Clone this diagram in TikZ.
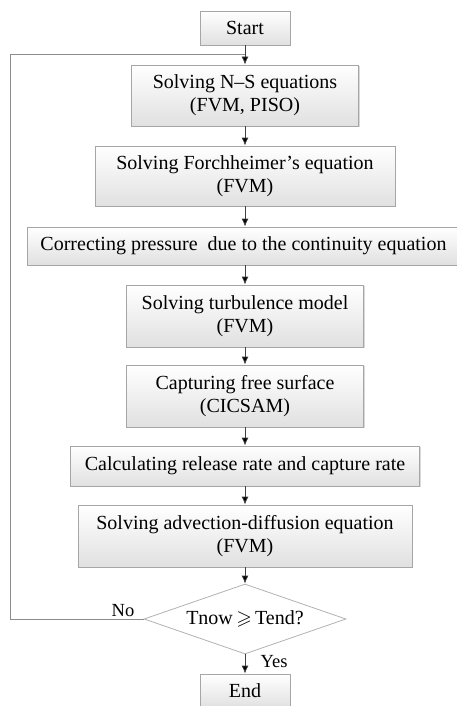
\documentclass[tikz,border=0pt]{standalone}
\usepackage{fontspec}
\setmainfont{Liberation Serif}
\usepackage{amssymb}
\usetikzlibrary{shapes.geometric,arrows.meta,shadows}
\begin{document}
\begin{tikzpicture}[x=1pt,y=-1pt,
  box/.style={rectangle, draw=black!35, line width=0.8pt, top color=white, bottom color=black!12,
    drop shadow={shadow xshift=1.2pt, shadow yshift=-1.2pt, fill=black!25, opacity=0.6},
    align=center, font=\fontsize{20}{23}\selectfont, inner sep=0pt},
  dec/.style={diamond, draw=black!30, line width=0.8pt, fill=white, aspect=2.886,
    minimum width=202pt, minimum height=70pt, inner sep=0pt, font=\fontsize{20}{23}\selectfont},
  flow/.style={draw=black!75, line width=0.8pt, -{Latex[length=8pt,width=7pt,fill=black]}},
  loopline/.style={draw=black!45, line width=1pt},
  lbl/.style={font=\fontsize{18.5}{22}\selectfont, inner sep=0pt}]
\useasboundingbox (0,0) rectangle (457,706);
\node[box, minimum width=90pt, minimum height=34pt] (start) at (245,28) {Start};
\node[box, minimum width=227pt, minimum height=61pt] (ns) at (245,95.5) {Solving N--S equations\\(FVM, PISO)};
\node[box, minimum width=300pt, minimum height=60pt] (fo) at (245,176) {Solving Forchheimer’s equation\\(FVM)};
\node[box, minimum width=433pt, minimum height=38pt] (co) at (243.5,246) {Correcting pressure \ due to the continuity equation};
\node[box, minimum width=237pt, minimum height=62pt] (tu) at (245,316) {Solving turbulence model\\(FVM)};
\node[box, minimum width=237pt, minimum height=62pt] (cf) at (245,396) {Capturing free surface\\(CICSAM)};
\node[box, minimum width=349pt, minimum height=40pt] (ca) at (245,466) {Calculating release rate and capture rate};
\node[box, minimum width=334pt, minimum height=62pt] (ad) at (245,536) {Solving advection-diffusion equation\\(FVM)};
\node[dec] (tt) at (245,619) {Tnow\,$\geqslant$\,Tend?};
\node[box, minimum width=90pt, minimum height=34pt] (en) at (245,691) {End};
\coordinate (join) at (245,55);
\coordinate (lb) at (10,619);
\coordinate (lt) at (10,55);
\draw[loopline] (tt.west) -- (lb) -- (lt) -- (join);
\draw[flow] (start) -- (ns);
\draw[flow] (ns) -- (fo);
\draw[flow] (fo) -- (fo|-co.north);
\draw[flow] (tu|-co.south) -- (tu);
\draw[flow] (tu) -- (cf);
\draw[flow] (cf) -- (ca);
\draw[flow] (ca) -- (ad);
\draw[flow] (ad) -- (tt);
\draw[flow] (tt) -- (en);
\node[lbl] (no) at (123,611) {No};
\node[lbl] (yes) at (274,662) {Yes};
\end{tikzpicture}
\end{document}
